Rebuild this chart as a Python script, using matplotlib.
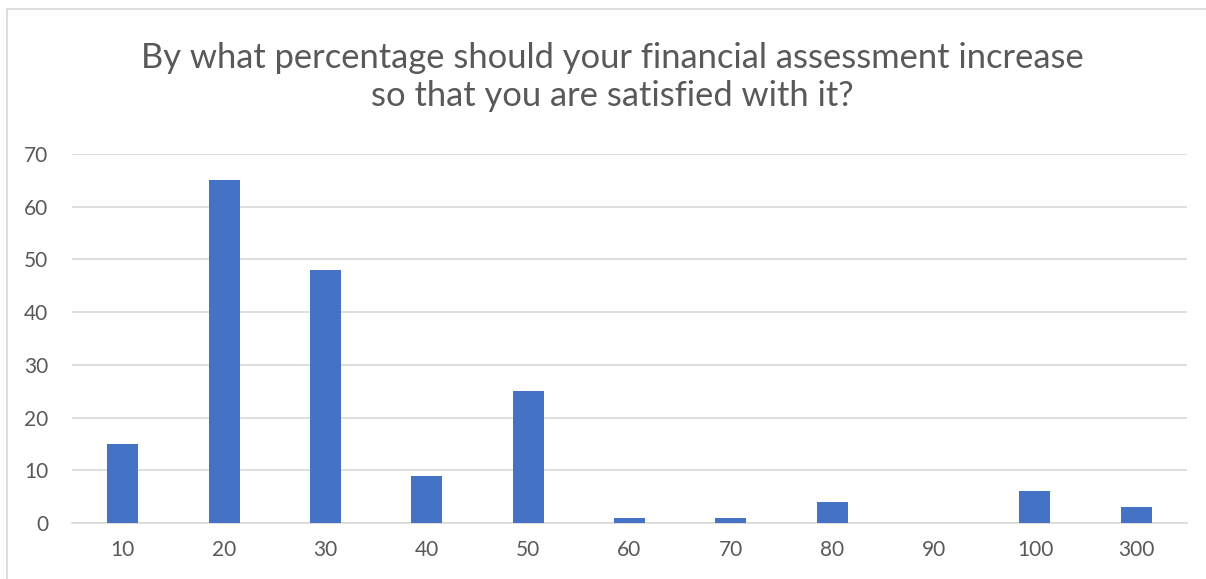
import matplotlib
matplotlib.use("Agg")
import matplotlib.pyplot as plt
from matplotlib.patches import Rectangle

categories = ["10", "20", "30", "40", "50", "60", "70", "80", "90", "100", "300"]
values = [15, 65, 48, 9, 25, 1, 1, 4, 0, 6, 3]
yticks = [0, 10, 20, 30, 40, 50, 60, 70]
title = "By what percentage should your financial assessment increase\nso that you are satisfied with it?"

plt.rcParams['font.family'] = ['Lato', 'DejaVu Sans']
W, H = 1206, 579
fig = plt.figure(figsize=(W / 100, H / 100), dpi=100)
fig.patch.set_facecolor('white')

# chart border (extends past right and bottom)
fig.patches.append(Rectangle((7 / W, -0.1), 1.2, (H - 9) / H + 0.1, transform=fig.transFigure,
                             fill=False, edgecolor='#d9d9d9', linewidth=1.2))

ax = fig.add_axes([72 / W, (H - 523) / H, (1187 - 72) / W, (523 - 154) / H])
x = range(len(categories))
ax.bar(x, values, width=0.305, color='#4472C4', zorder=3)
ax.set_xlim(-0.5, len(categories) - 0.5)
ax.set_ylim(0, 70)
ax.set_yticks(yticks)
ax.set_xticks(list(x))
ax.set_xticklabels(categories)
ax.yaxis.grid(True, color='#d9d9d9', linewidth=1.2, zorder=0)
ax.set_axisbelow(True)
for s in ['top', 'right', 'left']:
    ax.spines[s].set_visible(False)
ax.spines['bottom'].set_color('#d9d9d9')
ax.spines['bottom'].set_linewidth(1.2)
ax.tick_params(axis='both', length=0, labelsize=15, labelcolor='#595959')
ax.tick_params(axis='y', pad=17)
ax.tick_params(axis='x', pad=12)

fig.text(612 / W, 1 - 77 / H, title, ha='center', va='center', fontsize=24.8,
         color='#595959', linespacing=1.25)

fig.savefig('out.png', dpi=100)
